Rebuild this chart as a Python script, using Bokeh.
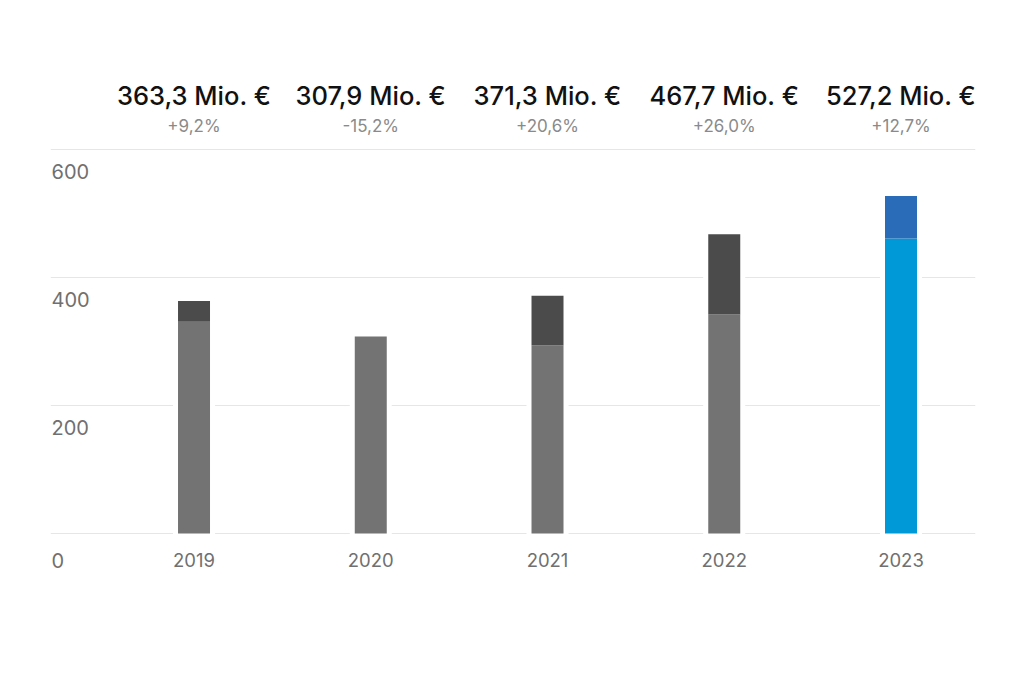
from bokeh.plotting import figure
from bokeh.models import Range1d, ColumnDataSource, FixedTicker
from bokeh.core.properties import value
from bokeh.embed import file_html
from bokeh.resources import INLINE

# ---- data ----
years = ["2019", "2020", "2021", "2022", "2023"]
totals = [363.3, 307.9, 371.3, 467.7, 527.2]
base_part = [331.0, 307.9, 294.0, 342.0, 461.0]
total_labels = ["363,3 Mio. €", "307,9 Mio. €", "371,3 Mio. €", "467,7 Mio. €", "527,2 Mio. €"]
change_labels = ["+9,2%", "-15,2%", "+20,6%", "+26,0%", "+12,7%"]
y_ticks = [0, 200, 400, 600]
y_tick_labels = ["0", "200", "400", "600"]

base_colors = ["#737373", "#737373", "#737373", "#737373", "#0099d8"]
top_colors = ["#4b4b4b", "#4b4b4b", "#4b4b4b", "#4b4b4b", "#2b6cb8"]

xs = list(range(len(years)))
top_part = [t - b for t, b in zip(totals, base_part)]

src = ColumnDataSource(dict(
    x=xs, year=years, total=totals, base=base_part, top=top_part,
    tl=total_labels, cl=change_labels, bc=base_colors, tc=top_colors,
    zero=[0] * len(xs), ref=[600] * len(xs),
))

p = figure(width=1016, height=620, output_backend="svg", toolbar_location=None,
           x_range=Range1d(-0.812, 4.4215), y_range=Range1d(-117.19, 739.06),
           min_border_left=50, min_border_right=41, min_border_top=60, min_border_bottom=12)
p.outline_line_color = None
p.background_fill_color = "white"
p.border_fill_color = "white"
p.xaxis.visible = False
p.yaxis.visible = False
p.xgrid.grid_line_color = None
p.ygrid.ticker = FixedTicker(ticks=y_ticks)
p.ygrid.grid_line_color = "#e6e6e6"
p.ygrid.grid_line_width = 1.2

bw = 0.181
# white halo to interrupt gridlines around bars
p.vbar(x="x", top="total", bottom=-8, width=bw + 0.057, source=src,
       fill_color="white", line_color=None)
p.vbar(x="x", top="base", bottom=0, width=bw, source=src,
       fill_color="bc", line_color=None)
p.vbar(x="x", top="total", bottom="base", width=bw, source=src,
       fill_color="tc", line_color=None)

# headline labels
p.text(x="x", y="ref", text="tl", source=src, y_offset=-54,
       text_align="center", text_baseline="alphabetic",
       text_font=value("'Inter Medium', 'Inter SemiBold', Inter"),
       text_font_size="25.5px", text_color="#111111")
p.text(x="x", y="ref", text="cl", source=src, y_offset=-23,
       text_align="center", text_baseline="alphabetic",
       text_font=value("Inter"), text_font_size="17px", text_color="#8a8a8a")

# year labels
p.text(x="x", y="zero", text="year", source=src, y_offset=27,
       text_align="center", text_baseline="alphabetic",
       text_font=value("Inter"), text_font_size="18.5px", text_color="#707070")

# y tick labels
ysrc = ColumnDataSource(dict(
    y=y_ticks, t=y_tick_labels, x=[-0.806] * len(y_ticks),
    off=[27, 22, 22, 22],
))
p.text(x="x", y="y", text="t", source=ysrc, y_offset="off",
       text_align="left", text_baseline="alphabetic",
       text_font=value("Inter"), text_font_size="20px", text_color="#707070")

open("out.html", "w").write(file_html(p, INLINE))
